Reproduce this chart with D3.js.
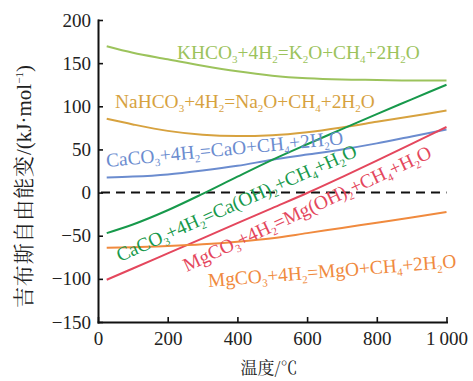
<!DOCTYPE html>
<html><head><meta charset="utf-8">
<script src="https://cdn.jsdelivr.net/npm/d3@7"></script>
<style>body{margin:0;background:#fff}</style>
</head><body><svg id="c" width="473" height="381"></svg>
<script>
// ---- data ----
const temps = [25,100,200,300,400,500,600,700,800,900,1000];
const khco3     = [169.5,162,154.5,147,140.5,135.5,132.5,131,130.5,130,130];
const nahco3    = [85.5,79,71.5,67,65.5,66.5,70,75.5,82,88.5,95];
const caco3CaO  = [17.5,18.5,21,25.5,31,38,44,50,57,65,73];
const caco3CaOH = [-47,-37,-20.5,-1.5,18.5,38,56,73.5,91,108,125];
const mgco3MgOH = [-101,-88,-70.5,-53,-35.5,-18,-0.5,18,37,56.5,76];
const mgco3MgO  = [-64,-63.5,-62,-60,-57,-53,-47,-41,-35,-29,-22.5];

const xTicks = [0,200,400,600,800,1000];
const xTickLabels = ["0","200","400","600","800","1\u2009000"];
const yTicks = [-150,-100,-50,0,50,100,150,200];
const yTickLabels = ["\u2212150","\u2212100","\u221250","0","50","100","150","200"];

const seriesNames = ["KHCO_3+4H_2=K_2O+CH_4+2H_2O","NaHCO_3+4H_2=Na_2O+CH_4+2H_2O","CaCO_3+4H_2=CaO+CH_4+2H_2O",
  "CaCO_3+4H_2=Ca(OH)_2+CH_4+H_2O","MgCO_3+4H_2=Mg(OH)_2+CH_4+H_2O","MgCO_3+4H_2=MgO+CH_4+2H_2O"];
const seriesValues = [khco3,nahco3,caco3CaO,caco3CaOH,mgco3MgOH,mgco3MgO];
const seriesColors = ["#9cc35c","#d7a23f","#6b8ccf","#17994b","#e4475d","#f08a3e"];
// label anchors in data units (temperature, energy) and rotation angle
const labelT = [227,49,25,63,255,317];
const labelV = [155.3,98.5,29.7,-80.4,-92,-109.4];
const labelAngle = [0,0,-5.5,-24,-25,-4.5];

const xTitle = "温度/℃";
const yTitleCJK = "吉布斯自由能变";
const yTitleUnit = "/(kJ\u00b7mol";

// ---- drawing ----
const svg = d3.select("#c");
const serif = "Liberation Serif";
const cjk = "Noto Serif CJK SC, Noto Sans CJK SC";
const x = d3.scaleLinear().domain([0,1000]).range([98,446.5]);
const y = d3.scaleLinear().domain([-150,200]).range([322,20]);

// zero dashed line
svg.append("line").attr("x1",x(0)+3).attr("x2",x(1000)).attr("y1",y(0)).attr("y2",y(0))
  .attr("stroke","#111").attr("stroke-width",2).attr("stroke-dasharray","9,6");

const line = d3.line().x((d,i)=>x(temps[i])).y(d=>y(d)).curve(d3.curveMonotoneX);
seriesValues.forEach((vals,k)=>{
  svg.append("path").attr("d",line(vals)).attr("fill","none")
    .attr("stroke",seriesColors[k]).attr("stroke-width",2);
});

// axes
const gx = svg.append("g").attr("transform",`translate(0,${y(-150)})`)
  .call(d3.axisBottom(x).tickValues(xTicks).tickFormat((d,i)=>xTickLabels[i]).tickSizeInner(-5).tickSizeOuter(0).tickPadding(9.5));
const gy = svg.append("g").attr("transform",`translate(${x(0)},0)`)
  .call(d3.axisLeft(y).tickValues(yTicks).tickFormat((d,i)=>yTickLabels[i]).tickSizeInner(-5).tickSizeOuter(0).tickPadding(7));
[gx,gy].forEach(g=>{
  g.attr("font-family",serif).attr("font-size",19);
  g.select(".domain").attr("stroke","#111").attr("stroke-width",2).attr("stroke-linecap","square");
  g.selectAll(".tick line").attr("stroke","#111").attr("stroke-width",1.6);
  g.selectAll(".tick text").attr("fill","#222").attr("font-family",serif).attr("font-size",19);
});

// series labels with subscripts
function addLabel(str,color,px,py,angle){
  const t = svg.append("text").attr("transform",`translate(${px},${py}) rotate(${angle})`)
    .attr("fill",color).attr("font-family",serif).attr("font-size",19.4);
  const segs=[];
  for(let k=0;k<str.length;k++){
    if(str[k]==='_'){ segs.push({s:str[k+1],sub:true}); k++; }
    else if(segs.length && !segs[segs.length-1].sub) segs[segs.length-1].s+=str[k];
    else segs.push({s:str[k],sub:false});
  }
  let shifted=false;
  segs.forEach(sg=>{
    const ts=t.append("tspan").text(sg.s);
    if(sg.sub){ ts.attr("font-size",11).attr("dy",shifted?0:4); shifted=true; }
    else { ts.attr("dy",shifted?-4:0); shifted=false; }
  });
}
seriesNames.forEach((n,k)=>addLabel(n,seriesColors[k],x(labelT[k]),y(labelV[k]),labelAngle[k]));

// axis titles
svg.append("text").attr("x",269).attr("y",374).attr("text-anchor","middle")
  .attr("font-family",cjk).attr("font-size",17).attr("fill","#222").text(xTitle);
svg.append("text").attr("transform","translate(31,308) rotate(-90)").attr("text-anchor","start")
  .attr("font-family",cjk).attr("font-size",21).attr("fill","#222")
  .attr("textLength",152).attr("lengthAdjust","spacing").text(yTitleCJK);
const yu = svg.append("text").attr("transform","translate(31,155) rotate(-90)").attr("text-anchor","start")
  .attr("font-family",serif).attr("font-size",21).attr("fill","#222");
yu.append("tspan").text(yTitleUnit);
yu.append("tspan").text("\u22121").attr("font-size",11).attr("dy",-8);
yu.append("tspan").text(")").attr("dy",8);
</script></body></html>
